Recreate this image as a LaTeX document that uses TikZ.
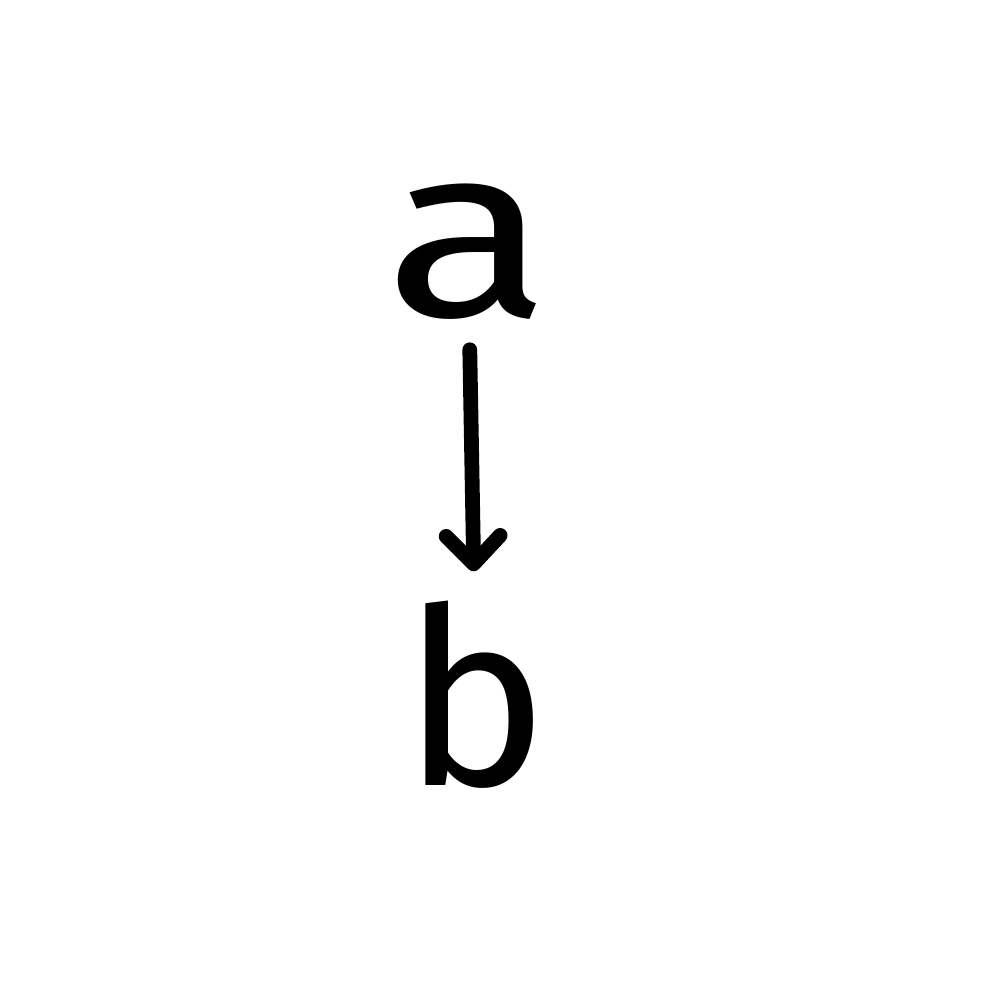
\documentclass[tikz,border=0pt]{standalone}
\usepackage{fontspec}
\setmainfont{Fira Sans}
\usetikzlibrary{arrows.meta}
\tikzset{
  letter/.style={inner sep=0pt, outer sep=0pt, font=\fontsize{70}{70}\selectfont},
  link/.style={line width=4.2pt, line cap=round, line join=round,
    -{Straight Barb[length=2.8mm, width=5.4mm, line cap=round, line join=round]}}
}
\begin{document}
\begin{tikzpicture}
\useasboundingbox[fill=white] (0,0) rectangle (10,10);
\node[letter, xscale=1.25] (a) at (4.68,7.48) {a};
\node[letter] (b) at (4.76,3.05) {b};
\draw[link, shorten <=0.3cm, shorten >=0.3cm] (a) -- (b);
\end{tikzpicture}
\end{document}
